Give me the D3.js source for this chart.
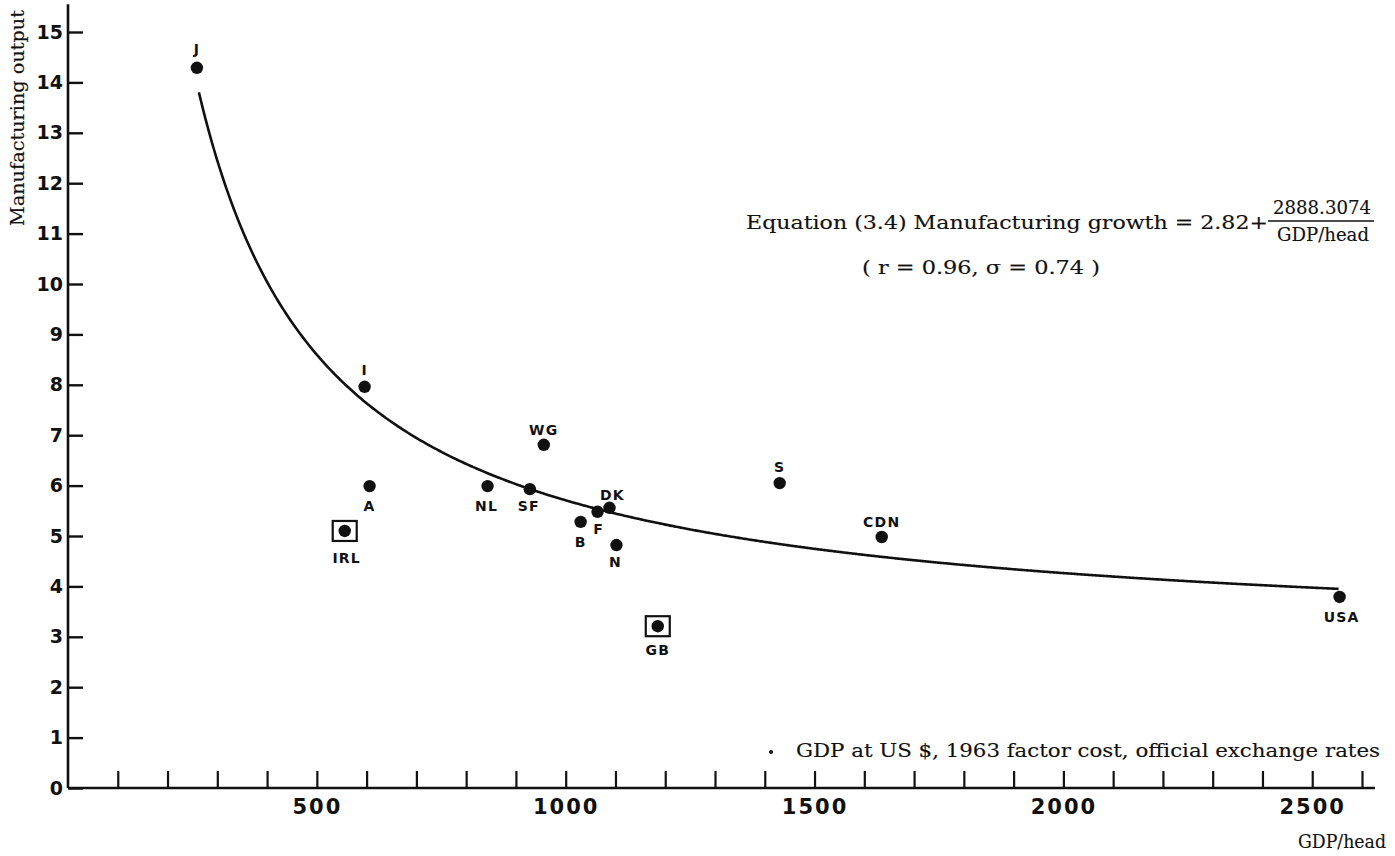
<!DOCTYPE html>
<html>
<head>
<meta charset="utf-8">
<script src="https://cdn.jsdelivr.net/npm/d3@7/dist/d3.min.js"></script>
<style>
  html, body { margin: 0; padding: 0; background: #fff; }
  svg { display: block; }
</style>
</head>
<body>
<svg id="chart" width="1395" height="856"></svg>
<script>
// Countries: GDP per head (US $, 1963 factor cost) against manufacturing output growth
const countries = ["J", "I", "A", "IRL", "NL", "SF", "WG", "B", "F", "DK", "N", "GB", "S", "CDN", "USA"];
const gdpPerHead = [259, 596, 606, 556, 843, 928, 956, 1030, 1064, 1088, 1102, 1185, 1430, 1635, 2555];
const mfgGrowth = [14.29, 7.96, 5.99, 5.10, 5.99, 5.93, 6.81, 5.28, 5.48, 5.56, 4.82, 3.21, 6.05, 4.98, 3.79];
const boxedCountries = ["IRL", "GB"];

// Fitted equation (3.4): growth = a + b / (GDP/head)
const eqIntercept = 2.82;
const eqSlope = 2888.3074;
const fitRange = [263, 2555];

const yTicks = d3.range(0, 16);
const xTicks = d3.range(100, 2700, 100);
const xLabelled = [500, 1000, 1500, 2000, 2500];

// label placement around each marker (layout only)
const labelPlace = {
  J: [0, -14], I: [0, -12], A: [0, 25], IRL: [2, 32], NL: [-1, 25], SF: [-1, 22],
  WG: [0, -10], B: [0, 25], F: [1, 22], DK: [3, -8], N: [-1, 22], GB: [0, 29],
  S: [0, -11], CDN: [0, -10], USA: [2, 25]
};

const svg = d3.select("#chart");
svg.append("rect").attr("width", 1395).attr("height", 856).attr("fill", "#fff");

const x = d3.scaleLinear().domain([0, 2600]).range([68, 1362]);
const y = d3.scaleLinear().domain([0, 15]).range([788, 32]);

const ink = "#111";
const tickFont = "'DejaVu Sans', sans-serif";
const serif = "'DejaVu Serif', 'Liberation Serif', serif";

// y axis
const yAxis = d3.axisLeft(y).tickValues(yTicks).tickSize(-15).tickSizeOuter(0).tickPadding(5)
  .tickFormat(d3.format("d"));
const gy = svg.append("g").attr("transform", `translate(${x(0)},0)`).call(yAxis);
gy.select(".domain").remove();
gy.selectAll(".tick line").attr("stroke", ink).attr("stroke-width", 2.4);
gy.selectAll(".tick text").attr("fill", ink).attr("font-family", tickFont)
  .attr("font-weight", "bold").attr("font-size", 19);

// x axis
const xAxis = d3.axisBottom(x).tickValues(xTicks).tickSize(-17).tickSizeOuter(0).tickPadding(11)
  .tickFormat(d => xLabelled.includes(d) ? String(d) : "");
const gx = svg.append("g").attr("transform", `translate(0,${y(0)})`).call(xAxis);
gx.select(".domain").remove();
gx.selectAll(".tick line").attr("stroke", ink).attr("stroke-width", 2.2);
gx.selectAll(".tick text").attr("fill", ink).attr("font-family", tickFont)
  .attr("font-weight", "bold").attr("font-size", 21).attr("letter-spacing", 2);

// axis lines
svg.append("line").attr("x1", x(0)).attr("x2", x(0)).attr("y1", y(15.55)).attr("y2", y(0))
  .attr("stroke", ink).attr("stroke-width", 2.6);
svg.append("line").attr("x1", x(0)).attr("x2", x(2626)).attr("y1", y(0)).attr("y2", y(0))
  .attr("stroke", ink).attr("stroke-width", 2.6);

// shared look for the typeset (serif) annotations
function typeset(sel, size, width) {
  sel.attr("font-family", serif).attr("font-size", size).attr("fill", ink)
    .attr("stroke", ink).attr("stroke-width", 0.15)
    .attr("textLength", width).attr("lengthAdjust", "spacingAndGlyphs");
  return sel;
}

// axis titles
typeset(svg.append("text").attr("transform", `translate(24,118) rotate(-90)`)
  .attr("text-anchor", "middle"), 19, 216).text("Manufacturing output");
typeset(svg.append("text").attr("x", 1298).attr("y", 848), 19, 88).text("GDP/head");

// fitted curve
const curvePts = d3.range(fitRange[0], fitRange[1] + 1, 5).map(g => [g, eqIntercept + eqSlope / g]);
svg.append("path").datum(curvePts)
  .attr("d", d3.line().x(d => x(d[0])).y(d => y(d[1])).curve(d3.curveBasis))
  .attr("fill", "none").attr("stroke", ink).attr("stroke-width", 2.6);

// points
const pts = countries.map((c, i) => ({ c, g: gdpPerHead[i], v: mfgGrowth[i] }));
const gp = svg.append("g");
gp.selectAll("rect.box").data(pts.filter(d => boxedCountries.includes(d.c))).join("rect")
  .attr("x", d => x(d.g) - 12).attr("y", d => y(d.v) - 10).attr("width", 24).attr("height", 20)
  .attr("fill", "none").attr("stroke", ink).attr("stroke-width", 2.2);
gp.selectAll("circle").data(pts).join("circle")
  .attr("cx", d => x(d.g)).attr("cy", d => y(d.v)).attr("r", 6.2).attr("fill", ink);
gp.selectAll("text").data(pts).join("text")
  .attr("x", d => x(d.g) + labelPlace[d.c][0]).attr("y", d => y(d.v) + labelPlace[d.c][1])
  .attr("text-anchor", "middle").attr("font-family", tickFont).attr("font-weight", "bold")
  .attr("font-size", 14).attr("letter-spacing", 1.2).attr("fill", ink).text(d => d.c);

// equation annotation
typeset(svg.append("text").attr("x", 746).attr("y", 229), 19, 522)
  .text(`Equation (3.4) Manufacturing growth = ${eqIntercept.toFixed(2)}+`);
typeset(svg.append("text").attr("x", 1273).attr("y", 214), 19, 98).text(eqSlope.toFixed(4));
svg.append("line").attr("x1", 1268).attr("x2", 1374).attr("y1", 221).attr("y2", 221)
  .attr("stroke", ink).attr("stroke-width", 1.6);
typeset(svg.append("text").attr("x", 1277).attr("y", 241), 19, 92).text("GDP/head");
typeset(svg.append("text").attr("x", 862).attr("y", 274), 19, 238).text("( r = 0.96,  \u03c3 = 0.74 )");

// source note
svg.append("circle").attr("cx", 771).attr("cy", 752).attr("r", 2).attr("fill", ink);
typeset(svg.append("text").attr("x", 796).attr("y", 757), 19, 584)
  .text("GDP at US $, 1963 factor cost, official exchange rates");
</script>
</body>
</html>
